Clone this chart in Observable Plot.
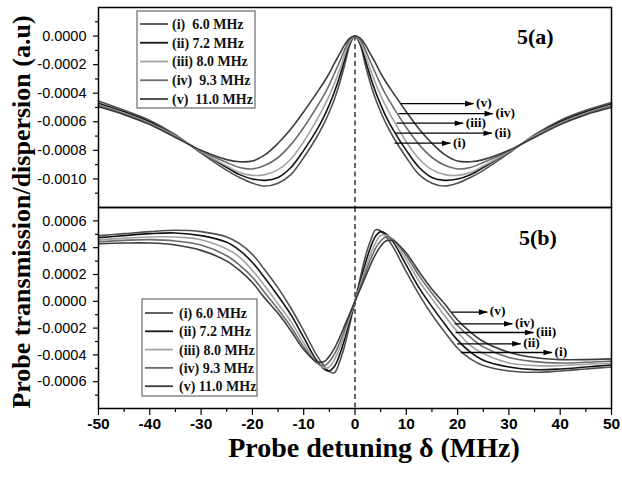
<!DOCTYPE html>
<html><head><meta charset="utf-8">
<script src="https://cdn.jsdelivr.net/npm/d3@7"></script>
<script src="https://cdn.jsdelivr.net/npm/@observablehq/plot@0.6"></script>
<style>
body{margin:0;background:#fff}
#wrap{position:relative;width:622px;height:485px;overflow:hidden;background:#fff}
.abs{position:absolute}
.serif{font-family:"Liberation Serif","Times New Roman",serif;font-weight:bold;color:#000}
</style></head><body>
<div id="wrap">
  <div id="topPlot" class="abs" style="left:0;top:0"></div>
  <div id="botPlot" class="abs" style="left:0;top:206px"></div>
  <div id="ytitle" class="abs serif" style="left:22px;top:212px;font-size:26px;line-height:1;white-space:nowrap;transform:translate(-50%,-50%) rotate(-90deg)"></div>
  <div id="xtitle" class="abs serif" style="left:374px;top:433.5px;font-size:28px;line-height:1;white-space:nowrap;transform:translateX(-50%)"></div>
  <div id="tagA" class="abs serif" style="left:517px;top:26px;font-size:22px;line-height:1"></div>
  <div id="tagB" class="abs serif" style="left:519px;top:227px;font-size:22px;line-height:1"></div>
</div>
<script>
// ---------- data ----------
const detuning = [-50,-45,-40,-35,-30,-25,-22.5,-20,-17.5,-15,-12.5,-10,-7.5,-6,-5,-4,-3,-2,-1,0,1,2,3,4,5,6,7.5,10,12.5,15,17.5,20,22.5,25,30,35,40,45,50];
const seriesNames = ["(i)","(ii)","(iii)","(iv)","(v)"];
const seriesColors = ["#505050","#141414","#a3a3a3","#6c6c6c","#3c3c3c"];
const legendTopLabels = ["(i)  6.0 MHz","(ii) 7.2 MHz","(iii) 8.0 MHz","(iv)  9.3 MHz","(v)  11.0 MHz"];
const legendBottomLabels = ["(i) 6.0 MHz","(ii) 7.2 MHz","(iii) 8.0 MHz","(iv) 9.3 MHz","(v) 11.0 MHz"];

// transmission (panel a), units of 1e-5 a.u.
const transE5 = [
  [-45.5,-52,-59,-69,-82,-94,-99,-103,-105,-103,-97,-85,-71,-61,-53,-44,-33,-20,-6,0,-6,-20,-33,-44,-53,-61,-71,-85,-97,-103,-105,-103,-99,-94,-82,-69,-59,-52,-46.5],
  [-47,-53,-60,-70,-81,-92,-97,-100,-101,-99,-92,-80,-66,-56,-48,-39,-28.5,-16.5,-5,0,-5,-16.5,-28.5,-39,-48,-56,-66,-80,-92,-99,-101,-100,-97,-92,-81,-70,-60,-53,-47.5],
  [-48,-54,-61,-70,-81,-91,-95.5,-97.5,-97,-93.5,-86,-74,-59,-49,-41.5,-33,-23.5,-13,-4,0,-4,-13,-23.5,-33,-41.5,-49,-59,-74,-86,-93.5,-97,-97.5,-95.5,-91,-81,-70,-61,-54,-48.5],
  [-48.5,-54.5,-61.5,-70.5,-80.5,-88.5,-92,-93,-90.5,-85,-76,-64,-50,-41,-34,-26,-18,-9.5,-2.5,0,-2.5,-9.5,-18,-26,-34,-41,-50,-64,-76,-85,-90.5,-93,-92,-88.5,-80.5,-70.5,-61.5,-54.5,-49],
  [-49.5,-55,-62,-71,-80,-86.5,-88,-87.5,-83,-75,-65,-53,-40,-32,-26,-19,-12.5,-6,-1.5,0,-1.5,-6,-12.5,-19,-26,-32,-40,-53,-65,-75,-83,-87.5,-88,-86.5,-80,-71,-62,-55,-50]
];
// dispersion (panel b), units of 1e-5 a.u.
const dispE5 = [
  [49,50.5,52,53,52,48,43,35,23,10,-5,-22,-40,-48.5,-52.5,-53.3,-45,-33,-17,0,17,33,45,53.3,52.5,48.5,40,22,5,-10,-23,-35,-43,-48,-52,-53,-52,-50.5,-49],
  [47.5,49,50.5,51,49,44,38,29,17,4,-10,-27,-44,-50.5,-52,-48.5,-40,-28,-14,0,14,28,40,48.5,52,50.5,44,27,10,-4,-17,-29,-38,-44,-49,-51,-50.5,-49,-47.5],
  [46,47,48,48,46,39,33,23,11,-2,-15,-31,-45.5,-49.5,-49,-43.5,-35,-24,-12,0,12,24,35,43.5,49,49.5,45.5,31,15,2,-11,-23,-33,-39,-46,-48,-48,-47,-46],
  [44.5,45.5,46,45,42,34,27,18,6,-6,-19,-34,-46,-48,-45,-39.5,-31,-21,-10,0,10,21,31,39.5,45,48,46,34,19,6,-6,-18,-27,-34,-42,-45,-46,-45.5,-44.5],
  [43,43.5,43.5,42,38,30,23,14,2,-9,-22,-36,-45,-45,-41,-35,-27,-18,-9,0,9,18,27,35,41,45,45,36,22,9,-2,-14,-23,-30,-38,-42,-43.5,-43.5,-43]
];

const arrowLabels = ["(v)","(iv)","(iii)","(ii)","(i)"];
const arrowTopX1 = [8.9,8.5,8.1,7.9,7.7];
const arrowTopX2 = [23.1,26.9,21.1,26.7,18.6];
const arrowTopY = [-0.000473,-0.000543,-0.00061,-0.00068,-0.00075];
const arrowBotX1 = [18.9,19.4,19.6,19.9,20.6];
const arrowBotX2 = [25.8,30.7,34.8,32.3,38.4];
const arrowBotY = [-0.0000806,-0.000168,-0.000233,-0.000317,-0.000382];

const xMajor = [-50,-40,-30,-20,-10,0,10,20,30,40,50];
const xMinor = [-45,-35,-25,-15,-5,5,15,25,35,45];
const yTopMajor = [0,-0.0002,-0.0004,-0.0006,-0.0008,-0.001];
const yTopMinor = [0.0001,-0.0001,-0.0003,-0.0005,-0.0007,-0.0009,-0.0011];
const yBotMajor = [0.0006,0.0004,0.0002,0,-0.0002,-0.0004,-0.0006];
const yBotMinor = [0.0005,0.0003,0.0001,-0.0001,-0.0003,-0.0005,-0.0007];
const yTopDomain = [-0.0012, 0.0002];
const yBotDomain = [-0.0008, 0.0007];
const xDomain = [-50, 50];

const xTitle = "Probe detuning δ (MHz)";
const yTitle = "Probe transmission/dispersion (a.u)";
const tagTop = "5(a)";
const tagBottom = "5(b)";

// ---------- build ----------
const toRows = arrs => arrs.map((arr, k) => detuning.map((d, j) => ({d, v: arr[j] * 1e-5, s: seriesNames[k]})));
const topRows = toRows(transE5);
const botRows = toRows(dispE5);
const mkArrows = (x1, x2, y) => arrowLabels.map((label, i) => ({label, x1: x1[i], x2: x2[i], y: y[i]}));
const topArrows = mkArrows(arrowTopX1, arrowTopX2, arrowTopY);
const botArrows = mkArrows(arrowBotX1, arrowBotX2, arrowBotY);

// filled, elongated arrow head with its tip on the anchor point
const arrowHead = {
  draw(context) {
    context.moveTo(0.5, 0);
    context.lineTo(-8.5, -2.8);
    context.lineTo(-8.5, 2.8);
    context.closePath();
  }
};

const fmtY = d => d.toFixed(4);
const baseStyle = {fontFamily: "'Liberation Sans', Arial, sans-serif", fontSize: "14.5px", color: "#000", background: "transparent", overflow: "visible"};
const serif = "'Liberation Serif', 'Times New Roman', serif";

function curveMarks(rows) {
  return rows.map((r, k) => Plot.line(r, {x: "d", y: "v", stroke: seriesColors[k], strokeWidth: 1.6, curve: "catmull-rom"}));
}
function arrowMarks(arrows) {
  return [
    Plot.link(arrows, {x1: "x1", x2: "x2", y1: "y", y2: "y", stroke: "#000", strokeWidth: 1.3}),
    Plot.dot(arrows, {x: "x2", y: "y", symbol: arrowHead, fill: "#000", stroke: "none"}),
    Plot.text(arrows, {x: "x2", y: "y", text: "label", textAnchor: "start", dx: 2.5, dy: -1, fontSize: 13.5, fontWeight: "bold", fontFamily: serif, fill: "#000"})
  ];
}
function yAxes(major, minor) {
  return [
    Plot.axisY({ticks: major, tickSize: 5, tickPadding: 7, tickFormat: fmtY, label: null, fontSize: 14.5, stroke: "#000", strokeWidth: 1.2, fill: "#000"}),
    Plot.axisY({ticks: minor, tickSize: 3, tickFormat: () => "", label: null, stroke: "#000", strokeWidth: 1.2})
  ];
}

const topPlot = Plot.plot({
  width: 622, height: 209,
  marginLeft: 98, marginRight: 11, marginTop: 7, marginBottom: 2,
  style: baseStyle,
  x: {domain: xDomain, axis: null},
  y: {domain: yTopDomain, label: null},
  marks: [
    Plot.ruleX([0], {y1: 0, y2: yTopDomain[0], stroke: "#000", strokeWidth: 1.2, strokeDasharray: "5,3.5"}),
    ...curveMarks(topRows),
    ...yAxes(yTopMajor, yTopMinor),
    ...arrowMarks(topArrows),
    Plot.frame({stroke: "#000", strokeWidth: 1.5})
  ]
});
document.getElementById("topPlot").appendChild(topPlot);

const botPlot = Plot.plot({
  width: 622, height: 279,
  marginLeft: 98, marginRight: 11, marginTop: 1, marginBottom: 77,
  style: baseStyle,
  x: {domain: xDomain, label: null},
  y: {domain: yBotDomain, label: null},
  marks: [
    Plot.ruleX([0], {stroke: "#000", strokeWidth: 1.2, strokeDasharray: "5,3.5"}),
    ...curveMarks(botRows),
    ...yAxes(yBotMajor, yBotMinor),
    Plot.axisX({ticks: xMajor, tickSize: 7, tickPadding: 2, tickFormat: d => String(d), label: null, fontSize: 15.5, fontWeight: "bold", stroke: "#000", strokeWidth: 1.2, fill: "#000"}),
    Plot.axisX({ticks: xMinor, tickSize: 4, tickFormat: () => "", label: null, stroke: "#000", strokeWidth: 1.2}),
    ...arrowMarks(botArrows),
    Plot.frame({stroke: "#000", strokeWidth: 1.5})
  ]
});
document.getElementById("botPlot").appendChild(botPlot);

document.getElementById("xtitle").textContent = xTitle;
document.getElementById("ytitle").textContent = yTitle;
document.getElementById("tagA").textContent = tagTop;
document.getElementById("tagB").textContent = tagBottom;

// legends
function legend(labels, box, rowY0, rowStep, lineX0, lineX1, textX) {
  const svg = d3.select("#wrap").append("svg")
    .attr("class", "abs").style("left", "0px").style("top", "0px")
    .attr("width", 622).attr("height", 485).style("pointer-events", "none");
  svg.append("rect").attr("x", box[0]).attr("y", box[1]).attr("width", box[2] - box[0]).attr("height", box[3] - box[1])
    .attr("fill", "#fff").attr("stroke", "#6a6a6a").attr("stroke-width", 1.2);
  labels.forEach((lab, i) => {
    const y = rowY0 + i * rowStep;
    svg.append("line").attr("x1", lineX0).attr("x2", lineX1).attr("y1", y).attr("y2", y)
      .attr("stroke", seriesColors[i]).attr("stroke-width", 1.8);
    svg.append("text").attr("x", textX).attr("y", y).attr("dy", "0.35em")
      .style("white-space", "pre").attr("font-family", serif).attr("font-weight", "bold")
      .attr("font-size", 14).attr("fill", "#111").text(lab);
  });
}
legend(legendTopLabels, [137, 11, 255, 108], 24, 18.75, 140, 168, 172);
legend(legendBottomLabels, [142, 299, 257, 396], 313, 18.3, 145, 173, 179);
</script>
</body></html>
